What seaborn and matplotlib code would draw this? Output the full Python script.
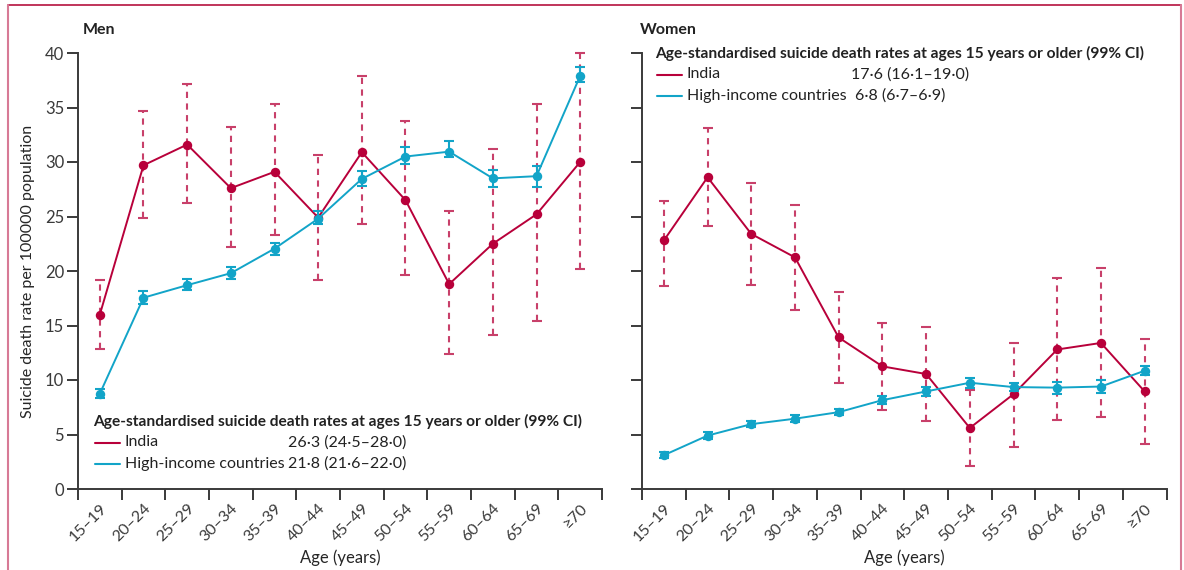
import numpy as np
import pandas as pd
import matplotlib.pyplot as plt
import seaborn as sns
from matplotlib.lines import Line2D
from matplotlib.ticker import FixedLocator

ages = ['15–19', '20–24', '25–29', '30–34', '35–39', '40–44',
        '45–49', '50–54', '55–59', '60–64', '65–69', '≥70']

# men
men_india = [16.0, 29.7, 31.6, 27.6, 29.1, 24.9, 30.9, 26.5, 18.8, 22.5, 25.2, 30.0]
men_india_lo = [12.8, 24.9, 26.2, 22.2, 23.3, 19.2, 24.3, 19.6, 12.4, 14.1, 15.4, 20.2]
men_india_hi = [19.2, 34.7, 37.2, 33.2, 35.3, 30.6, 37.9, 33.8, 25.5, 31.2, 35.3, 40.0]
men_hic = [8.75, 17.55, 18.7, 19.8, 22.05, 24.8, 28.45, 30.5, 30.95, 28.5, 28.7, 37.9]
men_hic_lo = [8.35, 17.0, 18.3, 19.3, 21.5, 24.3, 27.8, 29.8, 30.5, 27.7, 27.7, 37.3]
men_hic_hi = [9.2, 18.2, 19.3, 20.4, 22.6, 25.5, 29.2, 31.4, 31.9, 29.3, 29.6, 38.7]

# women
women_india = [22.8, 28.6, 23.4, 21.25, 13.9, 11.25, 10.55, 5.6, 8.7, 12.8, 13.4, 8.95]
women_india_lo = [18.6, 24.15, 18.75, 16.4, 9.7, 7.25, 6.2, 2.1, 3.85, 6.35, 6.65, 4.15]
women_india_hi = [26.4, 33.1, 28.05, 26.1, 18.05, 15.25, 14.9, 9.1, 13.35, 19.35, 20.3, 13.8]
women_hic = [3.1, 4.9, 5.95, 6.45, 7.05, 8.15, 8.95, 9.75, 9.35, 9.3, 9.4, 10.85]
women_hic_lo = [2.85, 4.6, 5.65, 6.15, 6.75, 7.8, 8.55, 9.3, 8.95, 8.75, 8.8, 10.45]
women_hic_hi = [3.35, 5.2, 6.25, 6.75, 7.35, 8.5, 9.35, 10.2, 9.75, 9.85, 10.0, 11.25]

legend_title = 'Age-standardised suicide death rates at ages 15 years or older (99% CI)'
countries = ['India', 'High-income countries']
men_summary = ['26·3 (24·5–28·0)', '21·8 (21·6–22·0)']
women_summary = ['17·6 (16·1–19·0)', '6·8 (6·7–6·9)']

red = '#B8003A'
red_ci = '#C8406A'
blue = '#12A4C8'
dark = '#3a3a3a'

sns.set_style('ticks')
plt.rcParams['font.family'] = ['Lato', 'DejaVu Sans']
plt.rcParams['axes.edgecolor'] = dark
plt.rcParams['xtick.color'] = dark
plt.rcParams['ytick.color'] = dark
plt.rcParams['text.color'] = '#222222'

fig = plt.figure(figsize=(11.84, 5.70), dpi=100)
ax1 = fig.add_axes([78 / 1184, 81 / 570, 524 / 1184, 436 / 570])
ax2 = fig.add_axes([642 / 1184, 81 / 570, 524.5 / 1184, 436 / 570])

pos = np.arange(len(ages))


def panel(ax, india, ilo, ihi, hic, hlo, hhi):
    india = np.array(india)
    hic = np.array(hic)
    # India CI (dashed)
    eb = ax.errorbar(pos, india, yerr=[india - np.array(ilo), np.array(ihi) - india],
                     fmt='none', ecolor=red_ci, elinewidth=1.5, capsize=3.4,
                     capthick=1.5, zorder=2, clip_on=False)
    eb[2][0].set_linestyle((0, (3.0, 2.6)))
    for c in eb[1]:
        c.set_clip_on(False)
    df = pd.DataFrame({'pos': np.concatenate([pos, pos]),
                       'rate': np.concatenate([india, hic]),
                       'country': ['India'] * len(pos) + ['HIC'] * len(pos)})
    sns.lineplot(data=df[df.country == 'India'], x='pos', y='rate', color=red,
                 marker='o', markersize=6.8, markeredgewidth=0, linewidth=1.4,
                 ax=ax, zorder=3, legend=False)
    ax.errorbar(pos, hic, yerr=[hic - np.array(hlo), np.array(hhi) - hic],
                fmt='none', ecolor=blue, elinewidth=1.5, capsize=3.6,
                capthick=1.5, zorder=4, clip_on=False)
    sns.lineplot(data=df[df.country == 'HIC'], x='pos', y='rate', color=blue,
                 marker='o', markersize=6.8, markeredgewidth=0, linewidth=1.4,
                 ax=ax, zorder=5, legend=False)

    ax.set_xlim(-0.5, len(ages) - 0.5)
    ax.set_ylim(0, 40)
    ax.set_yticks(np.arange(0, 41, 5))
    ax.set_xticks(pos)
    ax.set_xticklabels(ages, rotation=45, ha='right', va='top',
                       rotation_mode='anchor', fontsize=11.5)
    ax.xaxis.set_minor_locator(FixedLocator(np.arange(-0.5, len(ages), 1)))
    ax.tick_params(axis='x', which='major', length=0, pad=9)
    ax.tick_params(axis='x', which='minor', length=8, width=1.4, color=dark)
    ax.tick_params(axis='y', length=8, width=1.4, labelsize=12, pad=2)
    for s in ['left', 'bottom']:
        ax.spines[s].set_linewidth(1.4)
    sns.despine(ax=ax)
    ax.set_xlabel('Age (years)', fontsize=12)
    ax.xaxis.set_label_coords(0.5, -0.138)


panel(ax1, men_india, men_india_lo, men_india_hi, men_hic, men_hic_lo, men_hic_hi)
panel(ax2, women_india, women_india_lo, women_india_hi, women_hic, women_hic_lo, women_hic_hi)

ax1.set_ylabel('Suicide death rate per 100000 population', fontsize=11.5)
ax1.yaxis.set_label_coords(-0.082, 0.5)
ax2.set_ylabel('')
ax2.tick_params(axis='y', labelleft=False)

fig.text(83 / 1184, 1 - 30 / 570, 'Men', fontsize=11.5, fontweight='bold', va='center')
fig.text(640 / 1184, 1 - 30 / 570, 'Women', fontsize=11.5, fontweight='bold', va='center')


def summary(x0, y0, vals_x, vals):
    fig.text(x0 / 1184, 1 - y0 / 570, legend_title, fontsize=11.2,
             fontweight='bold', va='center')
    for i, (name, val, col) in enumerate(zip(countries, vals, [red, blue])):
        yy = 1 - (y0 + 21.5 * (i + 1)) / 570
        fig.add_artist(Line2D([(x0 + 2) / 1184, (x0 + 27) / 1184], [yy, yy],
                              color=col, linewidth=1.5, transform=fig.transFigure))
        fig.text((x0 + 32) / 1184, yy, name, fontsize=11.5, va='center')
        fig.text(vals_x[i] / 1184, yy, val, fontsize=11.5, va='center')


summary(93, 421, [288, 288], men_summary)
summary(655, 53, [851, 855], women_summary)

# outer frame
fig.add_artist(Line2D([8 / 1184, 1181 / 1184], [1 - 5 / 570, 1 - 5 / 570],
                      color='#B5123E', linewidth=1.2, transform=fig.transFigure))
for xx in [8, 1181]:
    fig.add_artist(Line2D([xx / 1184, xx / 1184], [0, 1 - 5 / 570],
                          color='#D77A96', linewidth=1.5, transform=fig.transFigure))

fig.savefig('out.png', dpi=100)
